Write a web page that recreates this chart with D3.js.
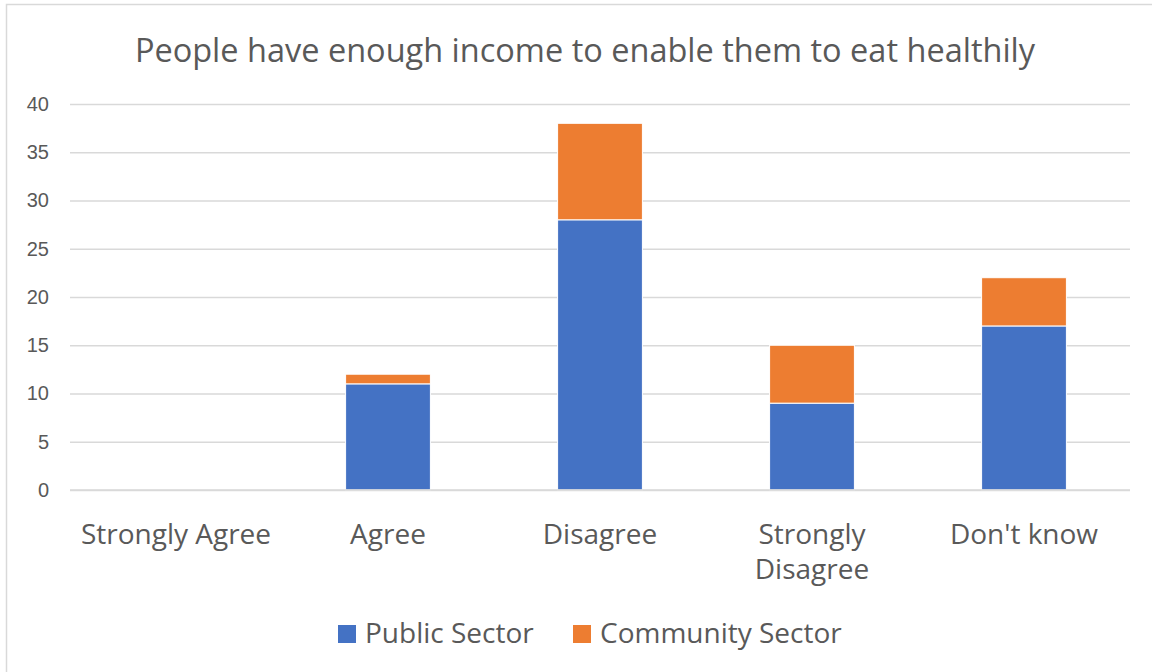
<!DOCTYPE html>
<html>
<head>
<meta charset="utf-8">
<script src="https://cdn.jsdelivr.net/npm/d3@7"></script>
<style>
  html, body { margin: 0; padding: 0; background: #fff; }
  svg { display: block; font-family: "Open Sans", "Noto Sans", sans-serif; }
</style>
</head>
<body>
<svg id="chart" width="1152" height="672"></svg>
<script>
// Survey responses, stacked by sector
const categories = ["Strongly Agree", "Agree", "Disagree", "Strongly Disagree", "Don't know"];
const categoryLines = [["Strongly Agree"], ["Agree"], ["Disagree"], ["Strongly", "Disagree"], ["Don't know"]];
const seriesNames = ["Public Sector", "Community Sector"];
const publicSector = [0, 11, 28, 9, 17];
const communitySector = [0, 1, 10, 6, 5];
const yTicks = [0, 5, 10, 15, 20, 25, 30, 35, 40];
const colors = ["#4472C4", "#ED7D31"];
const title = "People have enough income to enable them to eat healthily";

const svg = d3.select("#chart");
const W = 1152, H = 672;
const margin = { left: 70, right: 22, top: 104, bottom: 182 };
const plotW = W - margin.left - margin.right;
const plotH = H - margin.top - margin.bottom;

// chart frame
svg.append("path")
  .attr("d", `M6.5,${H} V4.5 H${W}`)
  .attr("fill", "none").attr("stroke", "#d9d9d9").attr("stroke-width", 1.5);

svg.append("text")
  .attr("x", 585).attr("y", 62)
  .attr("text-anchor", "middle")
  .attr("font-size", 32.5).attr("fill", "#595959")
  .text(title);

const x = d3.scaleBand().domain(categories).range([margin.left, margin.left + plotW]).paddingInner(0.6).paddingOuter(0.3);
const y = d3.scaleLinear().domain([0, 40]).range([margin.top + plotH, margin.top]);

// gridlines and value axis
const yAxis = d3.axisLeft(y).tickValues(yTicks).tickSize(-plotW).tickPadding(14);
const gy = svg.append("g").attr("transform", `translate(${margin.left},0)`).call(yAxis);
gy.select(".domain").remove();
gy.selectAll(".tick line").attr("stroke", "#d9d9d9").attr("stroke-width", 1.3);
gy.selectAll(".tick text").attr("fill", "#595959").attr("font-size", 20).attr("x", -21).attr("text-anchor", "end");

// stacked bars
const rows = categories.map((c, i) => ({ cat: c, "Public Sector": publicSector[i], "Community Sector": communitySector[i] }));
const stacked = d3.stack().keys(seriesNames)(rows);
svg.append("g").selectAll("g").data(stacked).join("g")
  .attr("fill", (d, i) => colors[i])
  .selectAll("rect").data(d => d).join("rect")
  .attr("x", d => x(d.data.cat))
  .attr("width", x.bandwidth())
  .attr("y", d => y(d[1]))
  .attr("height", d => Math.max(0, y(d[0]) - y(d[1])))
  .attr("stroke", "#fff").attr("stroke-width", 1);

// baseline
svg.append("line")
  .attr("x1", margin.left).attr("x2", margin.left + plotW)
  .attr("y1", y(0)).attr("y2", y(0))
  .attr("stroke", "#d9d9d9").attr("stroke-width", 1.5);

// category labels
const xl = svg.append("g");
categories.forEach((c, i) => {
  const cx = x(c) + x.bandwidth() / 2;
  const t = xl.append("text")
    .attr("x", cx).attr("y", 544)
    .attr("text-anchor", "middle").attr("font-size", 28).attr("fill", "#595959");
  categoryLines[i].forEach((line, j) => {
    t.append("tspan").attr("x", cx).attr("dy", j === 0 ? 0 : 35).text(line);
  });
});

// legend
const legendItems = [{ name: seriesNames[0], x: 338 }, { name: seriesNames[1], x: 573 }];
const lg = svg.append("g");
legendItems.forEach((it, i) => {
  lg.append("rect").attr("x", it.x).attr("y", 625).attr("width", 18).attr("height", 18).attr("fill", colors[i]);
  lg.append("text").attr("x", it.x + 27).attr("y", 643).attr("font-size", 28).attr("fill", "#595959").text(it.name);
});
</script>
</body>
</html>
